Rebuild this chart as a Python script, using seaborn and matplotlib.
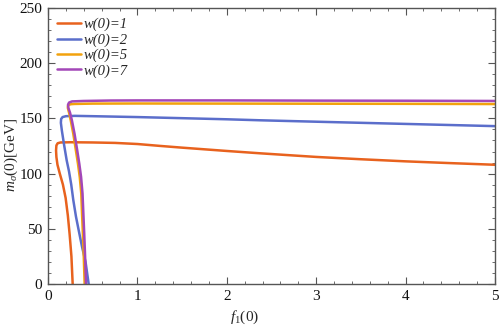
import numpy as np
import pandas as pd
import matplotlib
matplotlib.use('Agg')
import matplotlib.pyplot as plt
import seaborn as sns
from matplotlib.ticker import MultipleLocator

sns.set_style('ticks')
plt.rcParams['font.family'] = ['Liberation Serif', 'DejaVu Serif']
plt.rcParams['mathtext.fontset'] = 'custom'
plt.rcParams['mathtext.rm'] = 'Liberation Serif'
plt.rcParams['mathtext.it'] = 'Liberation Serif:italic'

### curvas (x = f1(0), y = m_sigma(0) em GeV)

x_w1 = [0.276, 0.262, 0.242, 0.222, 0.197, 0.167, 0.132, 0.106, 0.094, 0.090, 0.094, 0.108,
        0.14, 0.25, 0.5, 0.75, 1.0, 1.25, 1.5, 1.75, 2.0, 2.37, 2.75, 3.0, 3.5, 4.0, 4.5, 5.0]
y_w1 = [0, 25, 45, 62, 78, 90, 100, 108, 115, 121, 125.5, 127.5,
        128.2, 128.4, 128.2, 127.8, 126.8, 125.1, 123.5, 122.0, 120.5, 118.4, 116.4, 115.1, 113.0, 111.1, 109.5, 108.0]

x_w2 = [0.455, 0.42, 0.38, 0.345, 0.313, 0.283, 0.26, 0.235, 0.209, 0.18, 0.155, 0.144, 0.147,
        0.163, 0.2, 0.3, 0.5, 1.0, 1.5, 2.0, 2.37, 3.0, 3.5, 4.0, 4.5, 5.0]
y_w2 = [0, 20, 34, 48, 61, 76, 90, 102, 112, 126, 139, 146, 149.5,
        151.2, 152.0, 152.3, 152.0, 151.2, 150.2, 149.2, 148.3, 147.0, 146.0, 145.0, 144.0, 143.0]

x_w5 = [0.41, 0.40, 0.39, 0.38, 0.372, 0.355, 0.335, 0.31, 0.283, 0.255, 0.236, 0.222, 0.223,
        0.235, 0.26, 0.3, 0.5, 1.0, 2.0, 3.0, 4.0, 5.0]
y_w5 = [0, 25, 46, 65, 82, 97, 109, 122, 136, 148, 155, 159.5, 161.3,
        162.4, 162.9, 163.1, 163.4, 163.5, 163.4, 163.3, 163.2, 163.0]

x_w7 = [0.425, 0.415, 0.405, 0.395, 0.386, 0.37, 0.35, 0.325, 0.297, 0.268, 0.247, 0.228, 0.224,
        0.236, 0.27, 0.4, 0.7, 1.0, 2.0, 3.0, 4.0, 5.0]
y_w7 = [0, 25, 46, 65, 82, 97, 109, 122, 136, 148, 155, 159.5, 162.5,
        164.4, 165.4, 165.8, 166.2, 166.3, 166.3, 166.1, 166.0, 165.8]

rotulos = ['w(0)=1', 'w(0)=2', 'w(0)=5', 'w(0)=7']
cores = ['#E8621E', '#5B6ECB', '#F2A20D', '#A347B8']

curvas = [(x_w1, y_w1), (x_w2, y_w2), (x_w5, y_w5), (x_w7, y_w7)]

fig = plt.figure(figsize=(5.01, 3.31), dpi=100)
ax = fig.add_axes([48/501, 1-284/331, 447/501, 276/331])

for (xs, ys), rot, cor in zip(curvas, rotulos, cores):
    df = pd.DataFrame({'x': xs, 'y': ys})
    sns.lineplot(data=df, x='x', y='y', sort=False, estimator=None, color=cor,
                 linewidth=1.8, label=rot, ax=ax)

ax.set_xlim(0, 5)
ax.set_ylim(0, 250)
ax.xaxis.set_major_locator(MultipleLocator(1))
ax.xaxis.set_minor_locator(MultipleLocator(0.2))
ax.yaxis.set_major_locator(MultipleLocator(50))
ax.yaxis.set_minor_locator(MultipleLocator(10))

cinza = '#555555'
for s in ax.spines.values():
    s.set_color(cinza)
    s.set_linewidth(1.0)
ax.tick_params(which='both', direction='in', top=True, right=True, color=cinza, labelsize=11, labelcolor='#111111')
ax.tick_params(which='major', length=5, width=0.8, pad=4)
ax.tick_params(which='minor', length=2.5, width=0.6)

ax.set_xlabel(r'$f_{\mathit{1}}\mathit{(0)}$', fontsize=11)
ax.set_ylabel(r'$m_{\sigma}\mathit{(0)}$[GeV]', fontsize=11)
ax.xaxis.set_label_coords(0.44, -0.09)
ax.yaxis.set_label_coords(-0.062, 0.467)

ax.legend(loc='upper left', bbox_to_anchor=(9/447, 0.964), borderaxespad=0, borderpad=0,
          frameon=False, handlelength=1.65, handletextpad=0.15, labelspacing=0.13,
          prop={'family': 'Liberation Serif', 'style': 'italic', 'size': 10.5})

fig.savefig('out.png', dpi=100)
